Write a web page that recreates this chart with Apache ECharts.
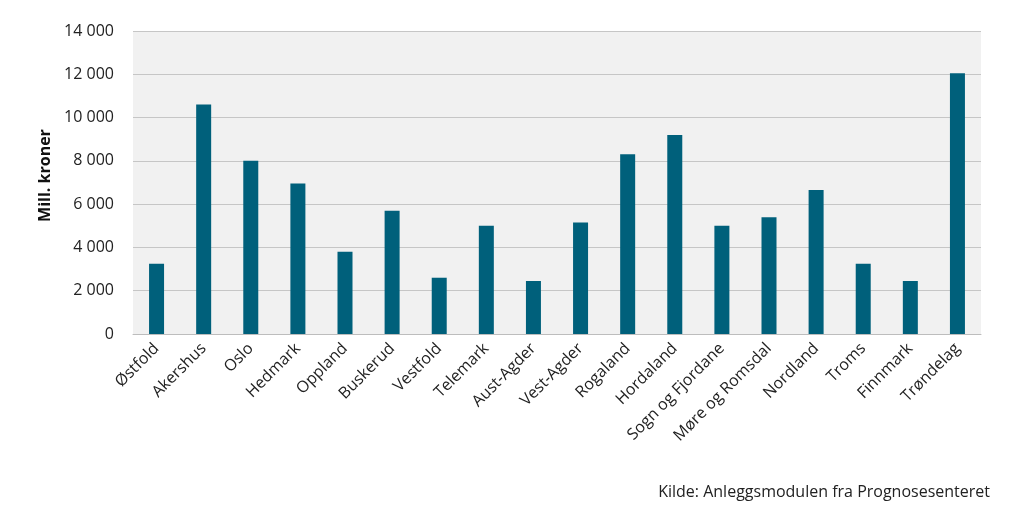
<!DOCTYPE html>
<html>
<head>
<meta charset="utf-8">
<script src="https://cdn.jsdelivr.net/npm/echarts@6/dist/echarts.min.js"></script>
<style>
html,body{margin:0;padding:0;background:#fff;}
#c{width:1024px;height:518px;}
</style>
</head>
<body>
<div id="c"></div>
<script>
const categories = ["Østfold","Akershus","Oslo","Hedmark","Oppland","Buskerud","Vestfold","Telemark","Aust-Agder","Vest-Agder","Rogaland","Hordaland","Sogn og Fjordane","Møre og Romsdal","Nordland","Troms","Finnmark","Trøndelag"];
const values = [3250,10600,8000,6950,3800,5700,2600,5000,2450,5150,8300,9200,5000,5400,6650,3250,2450,12050];
const yTicks = [0,2000,4000,6000,8000,10000,12000,14000];
const yAxisName = "Mill. kroner";
const sourceText = "Kilde: Anleggsmodulen fra Prognosesenteret";

const font = "'Open Sans', 'Noto Sans', sans-serif";
const chart = echarts.init(document.getElementById('c'), null, {renderer:'canvas'});
chart.setOption({
  animation:false,
  backgroundColor:'#ffffff',
  textStyle:{fontFamily:font},
  grid:{left:133,right:43,top:31,bottom:184,show:true,backgroundColor:'#f1f1f1',borderWidth:0,containLabel:false},
  xAxis:{
    type:'category',
    data:categories,
    axisLine:{show:true,lineStyle:{color:'#bdbdbd',width:1}},
    axisTick:{show:false},
    axisLabel:{rotate:45,color:'#222',fontSize:16,fontFamily:font,margin:12,interval:0}
  },
  yAxis:{
    type:'value',
    min:yTicks[0],
    max:yTicks[yTicks.length-1],
    interval:yTicks[1]-yTicks[0],
    name:yAxisName,
    nameLocation:'middle',
    nameRotate:90,
    nameGap:80,
    nameTextStyle:{color:'#111',fontSize:16,fontWeight:'bold',fontFamily:font,padding:[0,0,0,14]},
    axisLine:{show:false},
    axisTick:{show:false},
    splitLine:{show:true,lineStyle:{color:'#c6c6c6',width:1}},
    axisLabel:{color:'#222',fontSize:16,fontFamily:font,margin:19,
      formatter:function(v){return String(v).replace(/\B(?=(\d{3})+(?!\d))/g,' ');}}
  },
  graphic:[{
    type:'text',
    right:34,
    top:484,
    style:{text:sourceText,fill:'#222',fontSize:16,fontFamily:font}
  }],
  series:[{
    type:'bar',
    data:values,
    barWidth:15,
    itemStyle:{color:'#00607b'}
  }]
});
</script>
</body>
</html>
